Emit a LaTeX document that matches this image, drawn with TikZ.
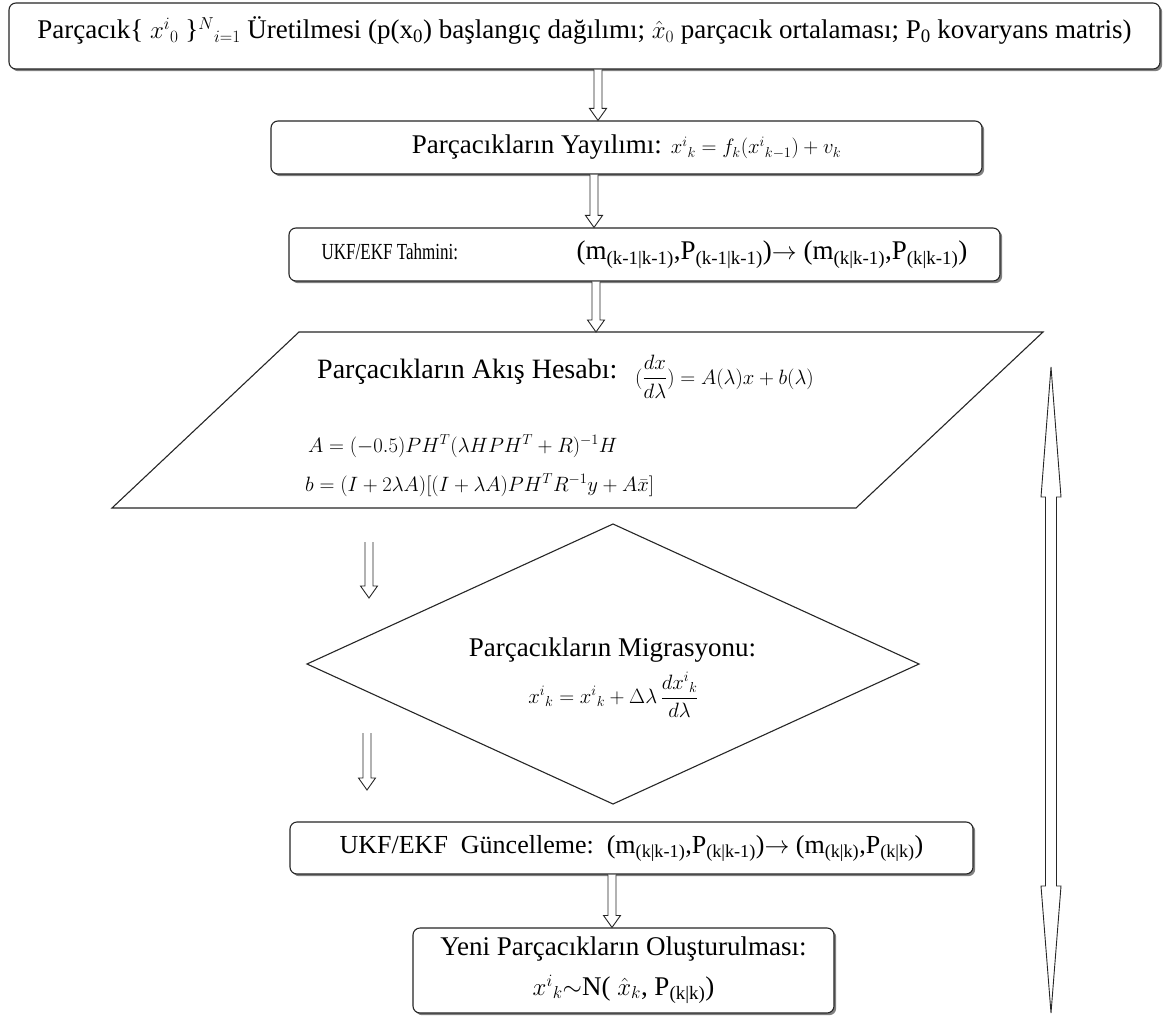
\documentclass[tikz,border=0pt]{standalone}
\usepackage{amsmath}
\usepackage{graphicx}
\usepackage{fontspec}
\setmainfont{Liberation Serif}
\usetikzlibrary{calc,shadows}
\newcommand\fsz[1]{\fontsize{#1pt}{1.2\dimexpr#1pt\relax}\selectfont}
\newcommand\flowarrow[2]{%
  \draw[blockarrow] ($(#1)+(-4,0)$) -- ($(#2)+(-4,-12)$) -- ($(#2)+(-8.5,-12)$) -- (#2)
    -- ($(#2)+(8.5,-12)$) -- ($(#2)+(4,-12)$) -- ($(#1)+(4,0)$);}
\tikzset{
  box/.style={draw=black!85, rounded corners=7pt, fill=white, line width=1.1pt,
    drop shadow={shadow xshift=2.2pt, shadow yshift=-2.2pt, fill=black!50, opacity=1},
    inner sep=0pt},
  blockarrow/.style={draw=black!85, fill=white, line width=0.9pt, line join=miter},
  shapeline/.style={draw=black!85, line width=1.1pt, line join=miter},
}
\begin{document}
\begin{tikzpicture}[x=1pt, y=-1pt]
\useasboundingbox (0,0) rectangle (1164,1019);
\fill[white] (0,0) rectangle (1164,1019);

% boxes
\node[box, minimum width=1151pt, text height=36pt, text depth=30pt, font=\fsz{27}] (b1) at (584.5,36)
  {Parçacık\{ $x^{i}{}_{0}$ \}${}^{N}{}_{i=1}$ Üretilmesi (p(x\textsubscript{0}) başlangıç dağılımı; $\hat{x}_{0}$ parçacık ortalaması; P\textsubscript{0} kovaryans matris)};

\node[box, minimum width=711pt, minimum height=53pt, font=\fsz{27}] (b2) at (626.5,147.5)
  {Parçacıkların Yayılımı: {\fsz{21}$x^{i}{}_{k} = f_{k}(x^{i}{}_{k-1}) + v_{k}$}};

\node[box, minimum width=711pt, minimum height=53pt, font=\fsz{27}] (b3) at (644.5,254.5)
  {\makebox[255pt][l]{\scalebox{0.74}[1]{\fsz{23}UKF/EKF Tahmini:}}(m\textsubscript{(k-1|k-1)},P\textsubscript{(k-1|k-1)})$\rightarrow$ (m\textsubscript{(k|k-1)},P\textsubscript{(k|k-1)})};

% parallelogram
\coordinate (p1) at (299,332);
\coordinate (p2) at (1043,332);
\coordinate (p3) at (856,508);
\coordinate (p4) at (112,508);
\path[shapeline, fill=white] (p1) -- (p2) -- (p3) -- (p4) -- cycle;
\node[anchor=base west, font=\fsz{28}, inner sep=0pt] (pt1) at (317,384)
  {\makebox[318pt][l]{\raisebox{6pt}{Parçacıkların Akış Hesabı:}}{\fsz{20}$(\dfrac{dx}{d\lambda}) = A(\lambda)x + b(\lambda)$}};
\node[anchor=west, font=\fsz{20.5}, inner sep=0pt] (pt2) at (308,446)
  {$A = (-0.5)PH^{T}(\lambda HPH^{T} + R)^{-1}H$};
\node[anchor=west, font=\fsz{20.5}, inner sep=0pt] (pt3) at (305,485)
  {$b = (I + 2\lambda A)[(I + \lambda A)PH^{T}R^{-1}y + A\bar{x}]$};

% diamond
\coordinate (d1) at (613,524);
\coordinate (d2) at (919,664);
\coordinate (d3) at (613,804);
\coordinate (d4) at (307,664);
\path[shapeline, fill=white] (d1) -- (d2) -- (d3) -- (d4) -- cycle;
\node[font=\fsz{27}, inner sep=0pt] (dm1) at (612.5,650) {Parçacıkların Migrasyonu:};
\node[font=\fsz{22}, inner sep=0pt] (dm2) at (613.5,695)
  {$x^{i}{}_{k} = x^{i}{}_{k} + \Delta\lambda\,\dfrac{dx^{i}{}_{k}}{d\lambda}$};

\node[box, minimum width=683pt, minimum height=52pt, font=\fsz{26}] (b4) at (631.5,848)
  {UKF/EKF\ \ Güncelleme:\ \ (m\textsubscript{(k|k-1)},P\textsubscript{(k|k-1)})$\rightarrow$ (m\textsubscript{(k|k)},P\textsubscript{(k|k)})};

\node[box, minimum width=421pt, minimum height=85pt, align=center, font=\fsz{27}] (b5) at (623.5,970.5)
  {Yeni Parçacıkların Oluşturulması:\\[7pt] {\fsz{24}$x^{i}{}_{k}{\sim}$}N( {\fsz{24}$\hat{x}_{k}$}, P\textsubscript{(k|k)})};

% flow arrows
\coordinate (ax1) at (598,0);
\coordinate (ax2) at (594,0);
\coordinate (ax3) at (596,0);
\coordinate (ax4) at (612,0);
\flowarrow{b1.south -| ax1}{b2.north -| ax1}
\flowarrow{b2.south -| ax2}{b3.north -| ax2}
\flowarrow{b3.south -| ax3}{p1 -| ax3}
\flowarrow{b4.south -| ax4}{b5.north -| ax4}

\coordinate (la1s) at (369,542);
\coordinate (la1e) at (369,598);
\coordinate (la2s) at (367,733);
\coordinate (la2e) at (367,790);
\flowarrow{la1s}{la1e}
\flowarrow{la2s}{la2e}

% long double arrow
\coordinate (ra1) at (1051,367);
\coordinate (ra2) at (1051,1013);
\draw[blockarrow] (ra1) -- ($(ra1)+(10,130)$) -- ($(ra1)+(5.5,130)$) -- ($(ra2)+(5.5,-127)$)
  -- ($(ra2)+(10,-127)$) -- (ra2) -- ($(ra2)+(-10,-127)$) -- ($(ra2)+(-5.5,-127)$)
  -- ($(ra1)+(-5.5,130)$) -- ($(ra1)+(-10,130)$) -- cycle;
\end{tikzpicture}
\end{document}
